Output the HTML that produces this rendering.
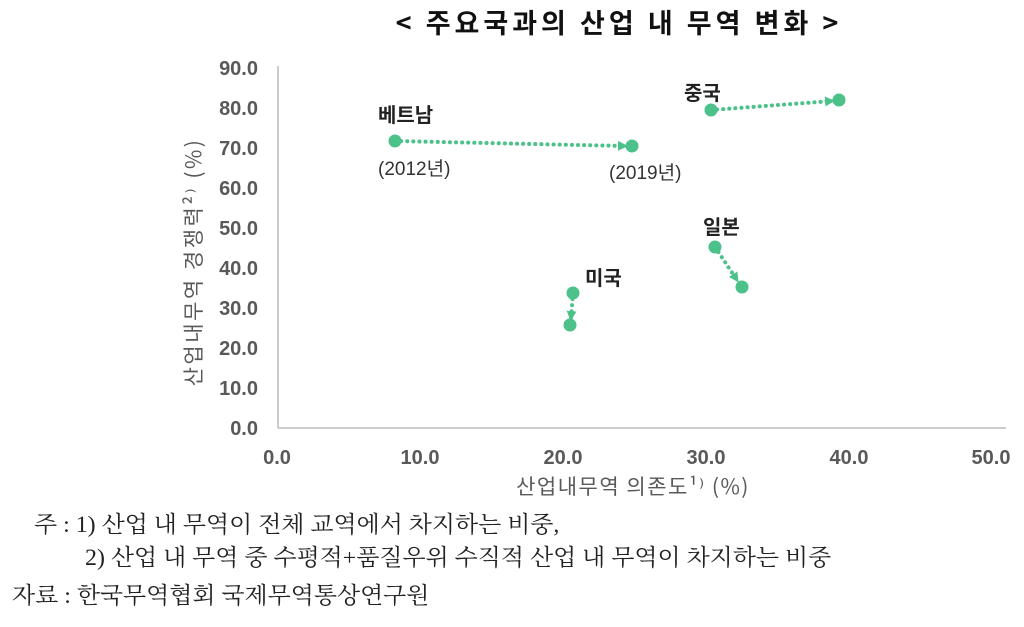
<!DOCTYPE html>
<html><head><meta charset="utf-8"><style>
body{margin:0;background:#fff;width:1024px;height:627px;overflow:hidden;font-family:"Liberation Sans","Noto Sans CJK KR",sans-serif}
.n{position:absolute;font-family:"Liberation Serif","Noto Serif CJK KR",serif;font-size:23px;color:#222;transform:scaleX(1.04);transform-origin:left center;white-space:nowrap;line-height:26px}
</style></head><body>
<svg width="1024" height="627" style="position:absolute;left:0;top:0">
<defs><marker id="a" markerWidth="10" markerHeight="10" refX="7" refY="5" orient="auto" markerUnits="userSpaceOnUse"><path d="M0,0 L10,5 L0,10z" fill="#4cc28a"/></marker></defs>
<text x="619" y="33" text-anchor="middle" font-family="Noto Sans CJK KR,sans-serif" font-weight="bold" font-size="27" letter-spacing="4" fill="#111">&lt; 주요국과의 산업 내 무역 변화 &gt;</text>
<line x1="278" y1="66" x2="278" y2="428" stroke="#bbb" stroke-width="1.5"/>
<line x1="278" y1="428" x2="1006" y2="428" stroke="#bbb" stroke-width="1.5"/>
<g font-family="Liberation Sans,sans-serif" font-weight="bold" font-size="20" fill="#595959" text-anchor="end">
<text x="258" y="75">90.0</text><text x="258" y="115">80.0</text><text x="258" y="155">70.0</text><text x="258" y="195">60.0</text><text x="258" y="235">50.0</text><text x="258" y="275">40.0</text><text x="258" y="315">30.0</text><text x="258" y="355">20.0</text><text x="258" y="395">10.0</text><text x="258" y="435">0.0</text>
</g>
<g font-family="Liberation Sans,sans-serif" font-weight="bold" font-size="20" fill="#595959" text-anchor="middle">
<text x="277" y="464">0.0</text><text x="420" y="464">10.0</text><text x="563" y="464">20.0</text><text x="706" y="464">30.0</text><text x="849" y="464">40.0</text><text x="991" y="464">50.0</text>
</g>
<text x="633" y="494" text-anchor="middle" font-size="21" letter-spacing="1.5" fill="#595959" font-family="Noto Sans CJK KR,sans-serif">산업내무역 의존도¹⁾ (%)</text>
<text transform="translate(201,262) rotate(-90)" text-anchor="middle" font-size="21" letter-spacing="2.5" fill="#595959" font-family="Noto Sans CJK KR,sans-serif">산업내무역 경쟁력²⁾ (%)</text>
<g stroke="#4cc28a" stroke-width="4" stroke-dasharray="0.1 6" stroke-linecap="round" fill="none" marker-end="url(#a)">
<line x1="395" y1="141" x2="625" y2="146"/>
<line x1="711" y1="110" x2="832" y2="101"/>
<line x1="573" y1="293" x2="571" y2="318"/>
<line x1="715" y1="247" x2="737" y2="280"/>
</g>
<g fill="#4cc28a">
<circle cx="395" cy="141" r="6.5"/><circle cx="632" cy="146" r="6.5"/>
<circle cx="711" cy="110" r="6.5"/><circle cx="839" cy="100" r="6.5"/>
<circle cx="573" cy="293" r="6.5"/><circle cx="570" cy="325" r="6.5"/>
<circle cx="715" cy="247" r="6.5"/><circle cx="742" cy="287" r="6.5"/>
</g>
<g font-family="Noto Sans CJK KR,sans-serif" font-weight="bold" font-size="20" fill="#222">
<text x="378" y="122">베트남</text><text x="684" y="100">중국</text><text x="585" y="285">미국</text><text x="703" y="234">일본</text>
</g>
<g font-family="Liberation Sans,Noto Sans CJK KR,sans-serif" font-size="19" fill="#333">
<text x="378" y="175">(2012년)</text><text x="609" y="179">(2019년)</text>
</g>
</svg>
<div class="n" style="left:34px;top:512px">주 : 1) 산업 내 무역이 전체 교역에서 차지하는 비중,</div>
<div class="n" style="left:85px;top:545px">2) 산업 내 무역 중 수평적+품질우위 수직적 산업 내 무역이 차지하는 비중</div>
<div class="n" style="left:12px;top:583px">자료 : 한국무역협회 국제무역통상연구원</div>
</body></html>
